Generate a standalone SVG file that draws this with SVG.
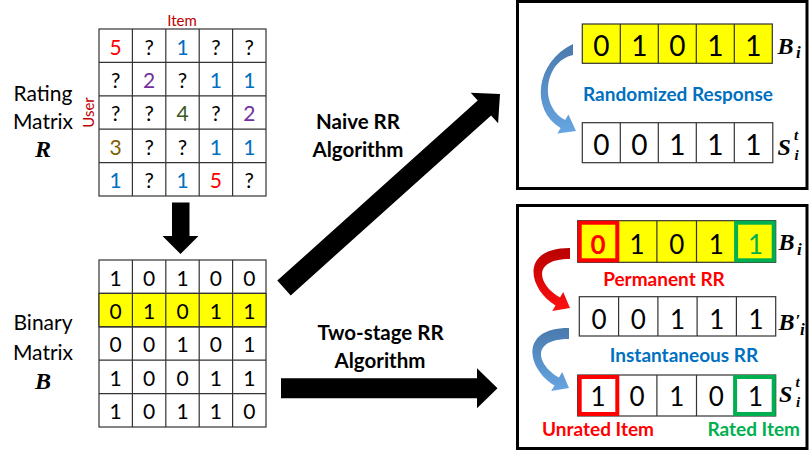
<svg xmlns="http://www.w3.org/2000/svg" width="810" height="451" viewBox="0 0 810 451">
<defs>
<style>
.cell{fill:#ffffff;stroke:#333333;stroke-width:1.2}
.ycell{fill:#ffff00;stroke:#333333;stroke-width:1.2}
.d{font-family:Lato,"Open Sans",sans-serif;text-anchor:middle;fill:#000}
.lbl{font-family:Lato,"Open Sans",sans-serif;text-anchor:middle;fill:#000;font-size:21px}
.bl{font-family:Lato,"Open Sans",sans-serif;text-anchor:middle;font-weight:bold}
.m{font-family:"Liberation Serif","DejaVu Serif",serif;font-weight:bold;font-style:italic;fill:#000}
.box{fill:#ffffff;stroke:#000;stroke-width:3}
.r{fill:#ff0000}.b{fill:#0070c0}.p{fill:#7030a0}.g{fill:#385723}.o{fill:#7f6000}
</style>
<linearGradient id="gBlue" x1="0" y1="0" x2="0" y2="1">
<stop offset="0" stop-color="#4a79ad"/><stop offset="1" stop-color="#66a6e2"/>
</linearGradient>
<linearGradient id="gRed" x1="0" y1="0" x2="0" y2="1">
<stop offset="0" stop-color="#b80000"/><stop offset="1" stop-color="#ff1010"/>
</linearGradient>
<path id="curveSmall" d="M570,248 C518,248 529.5,290.4 555.5,305.4 L552.2,311 L570,308 L563.2,292 L560,297.6 C537,284 532,259 570,259 Z"/>
</defs>

<g id="rating-matrix">
<rect x="99" y="29" width="167" height="167" class="cell"/>
<path d="M132.4,29V196M165.8,29V196M199.2,29V196M232.6,29V196M99,62.4H266M99,95.8H266M99,129.2H266M99,162.6H266" stroke="#333" stroke-width="1.2" fill="none"/>
<g class="d" font-size="21">
<text x="115.7" y="54.5" class="r">5</text><text x="149.1" y="54.5">?</text><text x="182.5" y="54.5" class="b">1</text><text x="215.9" y="54.5">?</text><text x="249.3" y="54.5">?</text>
<text x="115.7" y="87.9">?</text><text x="149.1" y="87.9" class="p">2</text><text x="182.5" y="87.9">?</text><text x="215.9" y="87.9" class="b">1</text><text x="249.3" y="87.9" class="b">1</text>
<text x="115.7" y="121.3">?</text><text x="149.1" y="121.3">?</text><text x="182.5" y="121.3" class="g">4</text><text x="215.9" y="121.3">?</text><text x="249.3" y="121.3" class="p">2</text>
<text x="115.7" y="154.7" class="o">3</text><text x="149.1" y="154.7">?</text><text x="182.5" y="154.7">?</text><text x="215.9" y="154.7" class="b">1</text><text x="249.3" y="154.7" class="b">1</text>
<text x="115.7" y="188.1" class="b">1</text><text x="149.1" y="188.1">?</text><text x="182.5" y="188.1" class="b">1</text><text x="215.9" y="188.1" class="r">5</text><text x="249.3" y="188.1">?</text>
</g>
<text x="182" y="26" class="d" font-size="15" style="fill:#c00000">Item</text>
<text transform="translate(94,112.5) rotate(-90)" class="d" font-size="15" style="fill:#c00000">User</text>
<text x="43" y="101" class="lbl">Rating</text>
<text x="43" y="128.5" class="lbl">Matrix</text>
<text x="35" y="157" class="m" font-size="24">R</text>
</g>

<g id="binary-matrix">
<rect x="99" y="260" width="167" height="167" class="cell"/>
<rect x="99" y="293.4" width="167" height="33.4" class="ycell"/>
<path d="M132.4,260V427M165.8,260V427M199.2,260V427M232.6,260V427M99,293.4H266M99,326.8H266M99,360.2H266M99,393.6H266" stroke="#333" stroke-width="1.2" fill="none"/>
<g class="d" font-size="21">
<text x="115.7" y="285.5">1</text><text x="149.1" y="285.5">0</text><text x="182.5" y="285.5">1</text><text x="215.9" y="285.5">0</text><text x="249.3" y="285.5">0</text>
<text x="115.7" y="318.9">0</text><text x="149.1" y="318.9">1</text><text x="182.5" y="318.9">0</text><text x="215.9" y="318.9">1</text><text x="249.3" y="318.9">1</text>
<text x="115.7" y="352.3">0</text><text x="149.1" y="352.3">0</text><text x="182.5" y="352.3">1</text><text x="215.9" y="352.3">0</text><text x="249.3" y="352.3">1</text>
<text x="115.7" y="385.7">1</text><text x="149.1" y="385.7">0</text><text x="182.5" y="385.7">0</text><text x="215.9" y="385.7">1</text><text x="249.3" y="385.7">1</text>
<text x="115.7" y="419.1">1</text><text x="149.1" y="419.1">0</text><text x="182.5" y="419.1">1</text><text x="215.9" y="419.1">1</text><text x="249.3" y="419.1">0</text>
</g>
<text x="43" y="330" class="lbl">Binary</text>
<text x="43" y="360" class="lbl">Matrix</text>
<text x="35" y="388.5" class="m" font-size="24">B</text>
</g>

<g id="naive-box">
<rect x="517.5" y="1.5" width="289.5" height="187" class="box"/>
<rect x="582.3" y="24" width="190" height="39.3" class="ycell"/>
<path d="M620.3,24V63.3M658.3,24V63.3M696.3,24V63.3M734.3,24V63.3" stroke="#333" stroke-width="1.2"/>
<g class="d" font-size="28">
<text x="601.3" y="56">0</text><text x="639.3" y="56">1</text><text x="677.3" y="56">0</text><text x="715.3" y="56">1</text><text x="753.3" y="56">1</text>
</g>
<text x="777.5" y="53.5" class="m" font-size="24">B</text><text x="796" y="58" class="m" font-size="17">i</text>
<text x="678" y="101" class="bl" font-size="19" fill="#0070c0">Randomized Response</text>
<rect x="582.3" y="122.7" width="190.5" height="40" class="cell"/>
<path d="M620.3,122.7V162.7M658.3,122.7V162.7M696.3,122.7V162.7M734.3,122.7V162.7" stroke="#333" stroke-width="1.2"/>
<g class="d" font-size="28">
<text x="601.3" y="155">0</text><text x="639.3" y="155">0</text><text x="677.3" y="155">1</text><text x="715.3" y="155">1</text><text x="753.3" y="155">1</text>
</g>
<text x="777.5" y="155" class="m" font-size="24">S</text><text x="794" y="140" class="m" font-size="15">t</text><text x="794.5" y="160" class="m" font-size="15">i</text>
<path d="M573,44 C535,62 530.3,110.4 560.6,127.9 L557.4,133.5 L576,131 L568.4,114.5 L565.2,120.1 C538,105 545,61 573,55 Z" fill="url(#gBlue)"/>
</g>

<g id="two-stage-box">
<rect x="517.5" y="205.5" width="289.5" height="243" class="box"/>
<rect x="577.7" y="220.7" width="198" height="41.6" class="ycell"/>
<path d="M617.3,220.7V262.3M656.9,220.7V262.3M696.5,220.7V262.3M736.1,220.7V262.3" stroke="#333" stroke-width="1.2"/>
<rect x="579.7" y="222.7" width="37.6" height="37.6" fill="none" stroke="#ff0000" stroke-width="4"/>
<rect x="736.1" y="222.7" width="37.6" height="37.6" fill="none" stroke="#00b050" stroke-width="4"/>
<g class="d" font-size="26">
<text x="598" y="254" style="fill:#ff0000;font-weight:bold">0</text><text x="637.1" y="254">1</text><text x="676.7" y="254">0</text><text x="716.3" y="254">1</text><text x="755.5" y="254" style="fill:#00b050">1</text>
</g>
<text x="778.5" y="250" class="m" font-size="24">B</text><text x="797" y="254.5" class="m" font-size="17">i</text>
<text x="664" y="285.7" class="bl" font-size="19" fill="#ff0000">Permanent RR</text>
<rect x="579.3" y="296.7" width="196.4" height="39.3" class="cell"/>
<path d="M618.6,296.7V336M657.9,296.7V336M697.1,296.7V336M736.4,296.7V336" stroke="#333" stroke-width="1.2"/>
<g class="d" font-size="26">
<text x="599" y="328.5">0</text><text x="638.3" y="328.5">0</text><text x="677.5" y="328.5">1</text><text x="716.8" y="328.5">1</text><text x="756" y="328.5">1</text>
</g>
<text x="778.5" y="330" class="m" font-size="24">B</text><text x="795.5" y="326" class="m" font-size="17">′</text><text x="800" y="334.5" class="m" font-size="17">i</text>
<text x="684" y="361.7" class="bl" font-size="19" fill="#0070c0">Instantaneous RR</text>
<rect x="577.7" y="375" width="198" height="41" class="cell"/>
<path d="M617.3,375V416M656.9,375V416M696.5,375V416M736.1,375V416" stroke="#333" stroke-width="1.2"/>
<rect x="579.7" y="377" width="37.6" height="37" fill="none" stroke="#ff0000" stroke-width="4"/>
<rect x="735.1" y="377" width="38.6" height="37" fill="none" stroke="#00b050" stroke-width="4"/>
<g class="d" font-size="26">
<text x="598" y="405.5">1</text><text x="637.1" y="405.5">0</text><text x="676.7" y="405.5">1</text><text x="716.3" y="405.5">0</text><text x="755.5" y="405.5">1</text>
</g>
<text x="779" y="402" class="m" font-size="24">S</text><text x="795.5" y="387" class="m" font-size="15">t</text><text x="796" y="407" class="m" font-size="15">i</text>
<text x="598" y="436" class="bl" font-size="19" fill="#ff0000">Unrated Item</text>
<text x="753.7" y="436" class="bl" font-size="19" fill="#00b050">Rated Item</text>
<use href="#curveSmall" fill="url(#gRed)"/>
<use href="#curveSmall" fill="url(#gBlue)" transform="translate(-1,80)"/>
</g>

<g id="connectors">
<polygon points="172,202.5 189.5,202.5 189.5,236 198.5,236 180.5,254 162.5,236 172,236" fill="#000"/>
<polygon points="277.3,280.6 477.7,100.6 470.7,92.7 500,94 498.1,123.3 491.1,115.4 290.7,295.4" fill="#000"/>
<polygon points="281,378.3 477,378.3 477,368.3 497.5,388.3 477,408.3 477,398.3 281,398.3" fill="#000"/>
<text x="358" y="129" class="bl" font-size="20.5" fill="#000">Naive RR</text>
<text x="358" y="157.3" class="bl" font-size="20.5" fill="#000">Algorithm</text>
<text x="380.5" y="339.5" class="bl" font-size="20.5" fill="#000">Two-stage RR</text>
<text x="380" y="368" class="bl" font-size="20.5" fill="#000">Algorithm</text>
</g>
</svg>
